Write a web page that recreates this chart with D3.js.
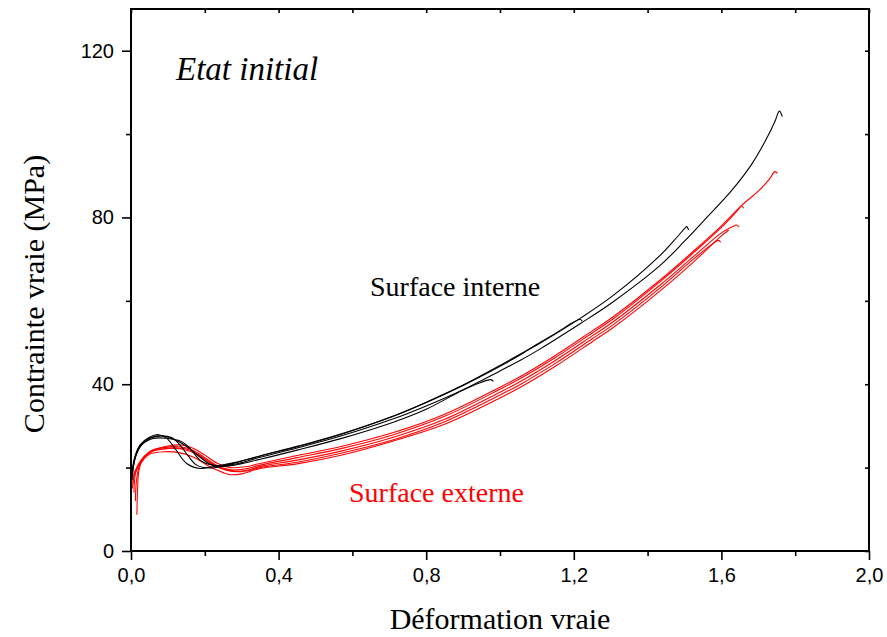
<!DOCTYPE html>
<html>
<head>
<meta charset="utf-8">
<script src="https://cdn.jsdelivr.net/npm/d3@7"></script>
<style>
  html, body { margin: 0; padding: 0; background: #fff; }
  svg { display: block; }
</style>
</head>
<body>
<svg id="chart" width="887" height="637"></svg>
<script>
// Axis ticks
const strainTicks = [0, 0.4, 0.8, 1.2, 1.6, 2.0];
const strainTickLabels = ["0,0", "0,4", "0,8", "1,2", "1,6", "2,0"];
const strainMinorTicks = [0.2, 0.6, 1.0, 1.4, 1.8];
const stressTicks = [0, 40, 80, 120];
const stressTickLabels = ["0", "40", "80", "120"];
const stressMinorTicks = [20, 60, 100];

// Surface interne : [déformation vraie, contrainte vraie (MPa)]
const interne1 = [[0.003,17],[0.008,21],[0.02,24.5],[0.04,26.6],[0.07,27.6],[0.1,27.3],[0.13,26.2],[0.16,24.5],[0.19,22.3],[0.215,20.8],[0.24,20.3],[0.28,20.6],[0.35,22.0],[0.45,24.2],[0.566,26.9],[0.711,30.9],[0.8,34.0],[0.9,38.6],[0.95,40.5],[0.975,41.1],[0.982,40.7]];
const interne2 = [[0.003,19],[0.01,22.5],[0.025,25.5],[0.05,27.3],[0.075,27.9],[0.097,27.0],[0.12,24.5],[0.151,21.0],[0.187,19.8],[0.22,20.2],[0.28,21.2],[0.35,22.8],[0.45,25.0],[0.566,27.9],[0.711,32.3],[0.8,35.6],[0.9,39.7],[1.0,44.3],[1.054,47.0],[1.1,49.6],[1.15,52.2],[1.2,54.9],[1.217,55.6],[1.223,55.1]];
const interne3 = [[0.002,18],[0.01,22],[0.025,25.2],[0.05,27.0],[0.08,27.6],[0.11,27.2],[0.133,25.4],[0.155,22.8],[0.178,20.6],[0.214,19.9],[0.26,20.6],[0.35,22.8],[0.45,25.1],[0.566,28.0],[0.711,32.4],[0.8,35.7],[0.9,39.8],[1.0,44.5],[1.054,47.2],[1.1,49.4],[1.217,55.8],[1.307,61.3],[1.434,70.9],[1.47,74.3],[1.5,77.3],[1.506,77.8],[1.511,77.0]];
const interne4 = [[0.004,18.5],[0.012,22.5],[0.03,25.5],[0.06,27.0],[0.1,27.0],[0.13,26.5],[0.151,25.4],[0.17,23.5],[0.187,21.8],[0.21,20.8],[0.241,20.4],[0.29,21.0],[0.35,22.5],[0.45,24.7],[0.566,27.5],[0.711,31.7],[0.8,34.8],[0.9,38.7],[1.0,43.2],[1.054,45.7],[1.1,48.0],[1.217,54.5],[1.307,59.8],[1.434,68.5],[1.5,74.3],[1.55,79.0],[1.628,86.5],[1.68,92.5],[1.72,98.5],[1.745,103.0],[1.757,105.5],[1.765,104.2]];

// Surface externe
const externe1 = [[0.016,8.7],[0.018,15],[0.022,19.5],[0.035,22.3],[0.06,24.2],[0.1,25.2],[0.14,25.4],[0.17,24.6],[0.2,23.0],[0.235,21.0],[0.27,20.0],[0.31,20.2],[0.35,21.0],[0.45,22.9],[0.566,25.0],[0.711,28.4],[0.85,32.8],[1.0,39.3],[1.054,41.8],[1.15,46.9],[1.25,52.8],[1.307,56.2],[1.434,65.0],[1.524,71.9],[1.6,78.0],[1.655,82.9],[1.7,86.3],[1.73,89.2],[1.745,91.0],[1.752,90.6]];
const externe2 = [[0.012,12],[0.015,17],[0.025,21],[0.05,23.8],[0.09,24.8],[0.13,25.0],[0.165,24.3],[0.2,22.4],[0.24,20.2],[0.275,19.4],[0.31,19.7],[0.35,20.6],[0.45,22.4],[0.566,24.5],[0.711,27.9],[0.85,32.3],[1.0,38.8],[1.054,41.3],[1.15,46.4],[1.25,52.3],[1.307,55.7],[1.434,64.6],[1.524,71.5],[1.6,77.6],[1.645,81.8],[1.655,82.8],[1.66,82.2]];
const externe3 = [[0.008,14],[0.012,18.5],[0.025,21.5],[0.05,23.6],[0.09,24.5],[0.13,24.7],[0.16,24.2],[0.2,22.0],[0.24,19.9],[0.28,19.1],[0.32,19.5],[0.35,20.3],[0.45,21.8],[0.566,23.9],[0.711,27.3],[0.85,31.6],[1.0,38.1],[1.054,40.6],[1.15,45.7],[1.25,51.6],[1.307,55.0],[1.434,63.8],[1.524,70.6],[1.6,76.3],[1.63,77.8],[1.641,78.2],[1.648,77.7]];
const externe4 = [[0.005,16],[0.01,19],[0.03,22],[0.06,24.0],[0.1,24.6],[0.14,24.4],[0.18,23.2],[0.22,21.0],[0.26,19.4],[0.29,19.0],[0.33,19.5],[0.35,20.0],[0.45,21.3],[0.566,23.4],[0.711,26.7],[0.85,31.0],[1.0,37.4],[1.054,39.9],[1.15,45.0],[1.25,50.9],[1.307,54.3],[1.434,63.1],[1.524,70.0],[1.575,73.6],[1.592,74.5],[1.598,74.1]];
const externe5 = [[0.004,15],[0.01,18.5],[0.03,21.5],[0.05,23.2],[0.09,23.8],[0.13,23.6],[0.17,22.5],[0.21,20.4],[0.25,18.8],[0.27,18.3],[0.3,18.5],[0.35,19.8],[0.45,20.9],[0.566,22.9],[0.711,26.4],[0.85,30.4],[1.0,36.7],[1.054,39.2],[1.15,44.3],[1.25,50.2],[1.307,53.6],[1.434,62.4],[1.524,69.3],[1.6,75.6],[1.62,77.0]];

const interneCurves = [interne1, interne2, interne3, interne4];
const externeCurves = [externe1, externe2, externe3, externe4, externe5];

const svg = d3.select("#chart");
const x = d3.scaleLinear().domain([0, 2]).range([131, 869]);
const y = d3.scaleLinear().domain([0, 130]).range([551, 9]);

const sans = "'Liberation Sans', Arial, sans-serif";
const serif = "'Liberation Serif', 'Times New Roman', serif";

const line = d3.line()
  .x(d => x(d[0]))
  .y(d => y(d[1]))
  .curve(d3.curveCatmullRom.alpha(0.5));

const plot = svg.append("g");
externeCurves.forEach(c => plot.append("path").datum(c)
  .attr("d", line).attr("fill", "none").attr("stroke", "#ff0000").attr("stroke-width", 1.1));
interneCurves.forEach(c => plot.append("path").datum(c)
  .attr("d", line).attr("fill", "none").attr("stroke", "#000").attr("stroke-width", 1.1));

// Axes
function styleAxis(g) {
  g.select(".domain").remove();
  g.selectAll(".tick line").attr("stroke", "#000").attr("stroke-width", 1.6);
  g.selectAll(".tick text").attr("font-family", sans).attr("font-size", 20).attr("fill", "#000");
}

svg.append("g").attr("transform", `translate(0,${y(0)})`)
  .call(d3.axisBottom(x).tickValues(strainTicks).tickSize(9).tickPadding(8)
    .tickFormat((d, i) => strainTickLabels[i]))
  .call(styleAxis);
svg.append("g").attr("transform", `translate(0,${y(0)})`)
  .call(d3.axisBottom(x).tickValues(strainMinorTicks).tickSize(5).tickFormat(""))
  .call(styleAxis);
svg.append("g").attr("transform", `translate(0,${y(130)})`)
  .call(d3.axisTop(x).tickValues(strainTicks.concat(strainMinorTicks)).tickSize(-4).tickFormat(""))
  .call(styleAxis);

svg.append("g").attr("transform", `translate(${x(0)},0)`)
  .call(d3.axisLeft(y).tickValues(stressTicks).tickSize(9).tickPadding(8)
    .tickFormat((d, i) => stressTickLabels[i]))
  .call(styleAxis);
svg.append("g").attr("transform", `translate(${x(0)},0)`)
  .call(d3.axisLeft(y).tickValues(stressMinorTicks).tickSize(5).tickFormat(""))
  .call(styleAxis);
svg.append("g").attr("transform", `translate(${x(2)},0)`)
  .call(d3.axisRight(y).tickValues(stressTicks.concat(stressMinorTicks)).tickSize(-4).tickFormat(""))
  .call(styleAxis);

// Frame
svg.append("rect")
  .attr("x", x(0)).attr("y", y(130))
  .attr("width", x(2) - x(0)).attr("height", y(0) - y(130))
  .attr("fill", "none").attr("stroke", "#000").attr("stroke-width", 2);

// Titles and annotations
svg.append("text")
  .attr("x", 500).attr("y", 629)
  .attr("text-anchor", "middle")
  .attr("font-family", serif).attr("font-size", 30)
  .text("Déformation vraie");

svg.append("text")
  .attr("transform", "translate(44,294) rotate(-90)")
  .attr("text-anchor", "middle")
  .attr("font-family", serif).attr("font-size", 30)
  .text("Contrainte vraie (MPa)");

svg.append("text")
  .attr("x", 176).attr("y", 80)
  .attr("font-family", serif).attr("font-size", 33).attr("font-style", "italic")
  .text("Etat initial");

svg.append("text")
  .attr("x", 370).attr("y", 296)
  .attr("font-family", serif).attr("font-size", 28)
  .text("Surface interne");

svg.append("text")
  .attr("x", 349).attr("y", 502)
  .attr("font-family", serif).attr("font-size", 28).attr("fill", "#ff0000")
  .text("Surface externe");
</script>
</body>
</html>
